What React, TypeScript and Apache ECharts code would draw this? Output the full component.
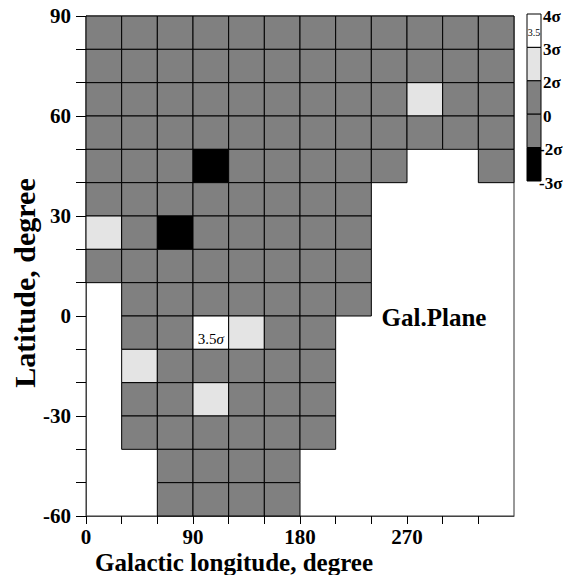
import React, { useEffect, useRef } from "react";
import * as echarts from "echarts";

// Cell grid: 30° in longitude x 10° in latitude
const lonStarts = [0, 30, 60, 90, 120, 150, 180, 210, 240, 270, 300, 330];
const latStarts = [80, 70, 60, 50, 40, 30, 20, 10, 0, -10, -20, -30, -40, -50, -60];
const CELL_LON = 30;
const CELL_LAT = 10;

// Significance (in sigma) per cell, rows follow latStarts, columns follow lonStarts; null = no data
const _ = null;
const sigmaRows: (number | null)[][] = [
  [0, 0, 0, 0, 0, 0, 0, 0, 0, 0, 0, 0],
  [0, 0, 0, 0, 0, 0, 0, 0, 0, 0, 0, 0],
  [0, 0, 0, 0, 0, 0, 0, 0, 0, 2.5, 0, 0],
  [0, 0, 0, 0, 0, 0, 0, 0, 0, 0, 0, 0],
  [0, 0, 0, -2.5, 0, 0, 0, 0, 0, _, _, 0],
  [0, 0, 0, 0, 0, 0, 0, 0, _, _, _, _],
  [2.5, 0, -2.5, 0, 0, 0, 0, 0, _, _, _, _],
  [0, 0, 0, 0, 0, 0, 0, 0, _, _, _, _],
  [_, 0, 0, 0, 0, 0, 0, 0, _, _, _, _],
  [_, 0, 0, 3.5, 2.5, 0, 0, _, _, _, _, _],
  [_, 2.5, 0, 0, 0, 0, 0, _, _, _, _, _],
  [_, 0, 0, 2.5, 0, 0, 0, _, _, _, _, _],
  [_, 0, 0, 0, 0, 0, 0, _, _, _, _, _],
  [_, _, 0, 0, 0, 0, _, _, _, _, _, _],
  [_, _, 0, 0, 0, 0, _, _, _, _, _, _],
];

// Legend bands (top to bottom)
const bandFrom = [3, 2, 0, -2, -3];
const bandTo = [4, 3, 2, 0, -2];
const bandColors = ["#ffffff", "#e4e4e4", "#808080", "#808080", "#000000"];
const bandLabels = ["4σ", "3σ", "2σ", "0", "-2σ", "-3σ"];

const xTickLabels = [0, 90, 180, 270];
const yTickLabels = [-60, -30, 0, 30, 60, 90];

function colorFor(s: number): string {
  for (let i = 0; i < bandFrom.length; i++) {
    if (s >= bandFrom[i] && s <= bandTo[i]) return bandColors[i];
  }
  return s > 4 ? bandColors[0] : bandColors[bandColors.length - 1];
}

const FONT = "'Liberation Serif', 'Times New Roman', serif";

export default function App() {
  const ref = useRef<HTMLDivElement>(null);
  useEffect(() => {
    if (!ref.current) return;
    const chart = echarts.init(ref.current, undefined, { renderer: "svg" });

    const data: number[][] = [];
    sigmaRows.forEach((row, ri) => {
      row.forEach((s, ci) => {
        if (s !== null) data.push([lonStarts[ci], latStarts[ri], s]);
      });
    });

    const legendTop = 14;
    const bandH = 33.4;
    const legendX = 527;
    const legendW = 14;
    const legendGraphics: any[] = [];
    bandColors.forEach((c, i) => {
      legendGraphics.push({
        type: "rect",
        shape: { x: legendX, y: legendTop + i * bandH, width: legendW, height: bandH },
        style: { fill: c, stroke: "#000", lineWidth: 1 },
      });
    });
    legendGraphics.push({
      type: "text",
      x: legendX + legendW / 2,
      y: legendTop + bandH / 2 + 2,
      style: {
        text: "3.5",
        fontFamily: FONT,
        fontSize: 10,
        fill: "#000",
        textAlign: "center",
        textVerticalAlign: "middle",
      },
    });
    bandLabels.forEach((t, i) => {
      legendGraphics.push({
        type: "text",
        x: t.startsWith("-") ? 539 : 543,
        y: legendTop + i * bandH + 2,
        style: {
          text: t,
          fontFamily: FONT,
          fontWeight: "bold",
          fontSize: 17,
          fill: "#000",
          textAlign: "left",
          textVerticalAlign: "middle",
        },
      });
    });

    chart.setOption({
      animation: false,
      backgroundColor: "#ffffff",
      grid: {
        left: 86,
        top: 16,
        right: 60,
        bottom: 59,
        show: true,
        borderColor: "#333",
        borderWidth: 1,
        outerBoundsMode: "none",
      },
      xAxis: {
        type: "value",
        min: 0,
        max: 360,
        interval: 30,
        splitLine: { show: false },
        axisLine: { show: true, onZero: false, lineStyle: { color: "#444", width: 1 } },
        axisTick: { show: true, inside: false, length: 8, lineStyle: { color: "#000" } },
        axisLabel: {
          margin: 10,
          fontFamily: FONT,
          fontWeight: "bold",
          fontSize: 21,
          color: "#000",
          showMaxLabel: false,
          formatter: (v: number) => (xTickLabels.includes(v) ? String(v) : ""),
        },
      },
      yAxis: {
        type: "value",
        min: -60,
        max: 90,
        interval: 10,
        splitLine: { show: false },
        axisLine: { show: true, onZero: false, lineStyle: { color: "#444", width: 1 } },
        axisTick: { show: true, inside: false, length: 10, lineStyle: { color: "#000" } },
        axisLabel: {
          margin: 15,
          fontFamily: FONT,
          fontWeight: "bold",
          fontSize: 21,
          color: "#000",
          formatter: (v: number) => (yTickLabels.includes(v) ? String(v) : ""),
        },
      },
      series: [
        {
          type: "custom",
          data,
          encode: { x: 0, y: 1 },
          clip: false,
          renderItem: (params: any, api: any) => {
            const lon = api.value(0);
            const lat = api.value(1);
            const s = api.value(2);
            const p = api.coord([lon, lat + CELL_LAT]);
            const size = api.size([CELL_LON, CELL_LAT]);
            const rect = {
              type: "rect",
              shape: { x: p[0], y: p[1], width: size[0], height: size[1] },
              style: { fill: colorFor(s), stroke: "#000", lineWidth: 1 },
            };
            if (s >= 3) {
              return {
                type: "group",
                children: [
                  rect,
                  {
                    type: "text",
                    x: p[0] + size[0] / 2,
                    y: p[1] + size[1] / 2 + 6,
                    style: {
                      text: s + "{i|σ}",
                      fontFamily: FONT,
                      fontSize: 15,
                      fill: "#000",
                      textAlign: "center",
                      textVerticalAlign: "middle",
                      rich: {
                        i: { fontFamily: FONT, fontSize: 15, fontStyle: "italic", fill: "#000" },
                      },
                    },
                  },
                ],
              };
            }
            return rect;
          },
        },
      ],
      graphic: [
        ...legendGraphics,
        {
          type: "text",
          x: 434,
          y: 317,
          style: {
            text: "Gal.Plane",
            fontFamily: FONT,
            fontWeight: "bold",
            fontSize: 25,
            fill: "#000",
            textAlign: "center",
            textVerticalAlign: "middle",
          },
        },
        {
          type: "text",
          x: 234,
          y: 562,
          style: {
            text: "Galactic longitude, degree",
            fontFamily: FONT,
            fontWeight: "bold",
            fontSize: 25,
            fill: "#000",
            textAlign: "center",
            textVerticalAlign: "middle",
          },
        },
        {
          type: "text",
          x: 24,
          y: 283,
          rotation: Math.PI / 2,
          style: {
            text: "Latitude, degree",
            fontFamily: FONT,
            fontWeight: "bold",
            fontSize: 30,
            fill: "#000",
            textAlign: "center",
            textVerticalAlign: "middle",
          },
        },
      ],
    });
    return () => chart.dispose();
  }, []);

  return (
    <div
      ref={ref}
      style={{ position: "fixed", left: 0, top: 0, width: 574, height: 575, background: "#fff" }}
    />
  );
}
